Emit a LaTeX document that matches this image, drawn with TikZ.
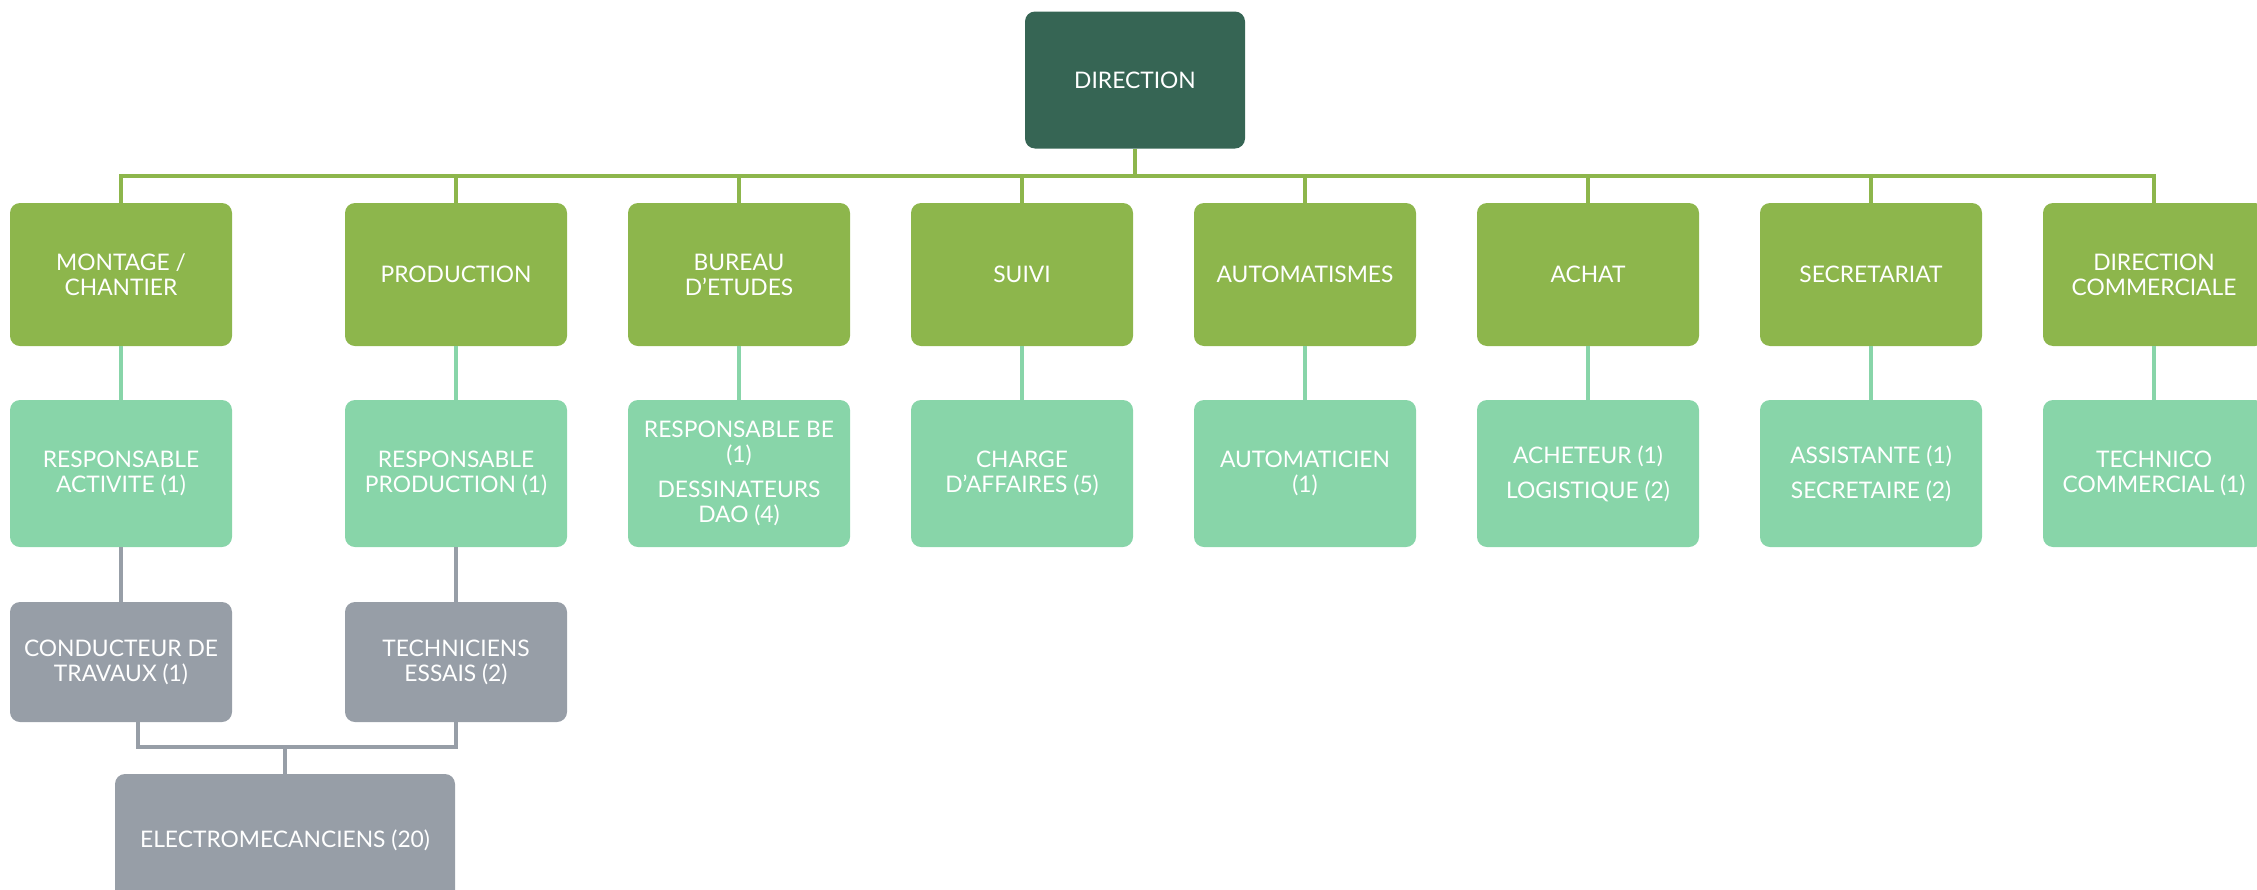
\documentclass[tikz,border=0pt]{standalone}
\usepackage{fontspec}
\setmainfont{Lato}
\definecolor{dirgreen}{HTML}{366554}
\definecolor{topgreen}{HTML}{8DB64C}
\definecolor{mint}{HTML}{88D5A9}
\definecolor{slate}{HTML}{979EA7}
\begin{document}
\begin{tikzpicture}[x=0.5pt,y=-0.5pt,
        box/.style={rounded corners=5pt,text=white,align=center,inner sep=1pt,
            minimum width=111pt,font=\fontsize{11.4}{12.5}\selectfont},
        headbox/.style={box,fill=dirgreen,minimum width=110pt,minimum height=68.5pt},
        deptbox/.style={box,fill=topgreen,minimum height=71.5pt},
        staffbox/.style={box,fill=mint,minimum height=73.5pt},
        teambox/.style={box,fill=slate,minimum height=60pt},
        greenline/.style={draw=topgreen,line width=2pt},
        mintline/.style={draw=mint,line width=2pt},
        slateline/.style={draw=slate,line width=2pt}]
        \useasboundingbox (0,0) rectangle (2257,889);
        \node[headbox] (dir) at (1135,80) {DIRECTION};
        \node[deptbox] (mont) at (121,274.5) {MONTAGE /\\CHANTIER};
        \node[deptbox] (prod) at (456,274.5) {PRODUCTION};
        \node[deptbox] (bureau) at (739,274.5) {BUREAU\\D'ETUDES};
        \node[deptbox] (suivi) at (1022,274.5) {SUIVI};
        \node[deptbox] (autom) at (1305,274.5) {AUTOMATISMES};
        \node[deptbox] (achat) at (1588,274.5) {ACHAT};
        \node[deptbox] (secr) at (1871,274.5) {SECRETARIAT};
        \node[deptbox] (comm) at (2154,274.5) {DIRECTION\\COMMERCIALE};
        \node[staffbox] (rmont) at (121,473.5) {RESPONSABLE\\ACTIVITE (1)};
        \node[staffbox] (rprod) at (456,473.5) {RESPONSABLE\\PRODUCTION (1)};
        \node[staffbox] (rbureau) at (739,473.5) {RESPONSABLE BE\\(1)\\[5pt]DESSINATEURS\\DAO (4)};
        \node[staffbox] (rsuivi) at (1022,473.5) {CHARGE\\D'AFFAIRES (5)};
        \node[staffbox] (rautom) at (1305,473.5) {AUTOMATICIEN\\(1)};
        \node[staffbox] (rachat) at (1588,473.5) {ACHETEUR (1)\\[5pt]LOGISTIQUE (2)};
        \node[staffbox] (rsecr) at (1871,473.5) {ASSISTANTE (1)\\[5pt]SECRETAIRE (2)};
        \node[staffbox] (rcomm) at (2154,473.5) {TECHNICO\\COMMERCIAL (1)};
        \node[teambox] (cond) at (121,662) {CONDUCTEUR DE\\TRAVAUX (1)};
        \node[teambox] (tech) at (456,662) {TECHNICIENS\\ESSAIS (2)};
        \node[teambox,minimum width=170pt,minimum height=66pt] (elec) at (285,840) {ELECTROMECANCIENS (20)};
        \draw[greenline] (dir.south) -- ++(0,27.5) -| (mont.north);
        \draw[greenline] (dir.south) -- ++(0,27.5) -| (prod.north);
        \draw[greenline] (dir.south) -- ++(0,27.5) -| (bureau.north);
        \draw[greenline] (dir.south) -- ++(0,27.5) -| (suivi.north);
        \draw[greenline] (dir.south) -- ++(0,27.5) -| (autom.north);
        \draw[greenline] (dir.south) -- ++(0,27.5) -| (achat.north);
        \draw[greenline] (dir.south) -- ++(0,27.5) -| (secr.north);
        \draw[greenline] (dir.south) -- ++(0,27.5) -| (comm.north);
        \draw[mintline] (mont) -- (rmont);
        \draw[mintline] (prod) -- (rprod);
        \draw[mintline] (bureau) -- (rbureau);
        \draw[mintline] (suivi) -- (rsuivi);
        \draw[mintline] (autom) -- (rautom);
        \draw[mintline] (achat) -- (rachat);
        \draw[mintline] (secr) -- (rsecr);
        \draw[mintline] (comm) -- (rcomm);
        \draw[slateline] (rmont) -- (cond);
        \draw[slateline] (rprod) -- (tech);
        \draw[slateline] ([xshift=8.5pt]cond.south) -- ++(0,25) -| (elec.north);
        \draw[slateline] (tech.south) -- ++(0,25) -| (elec.north);
    \end{tikzpicture}
\end{document}
